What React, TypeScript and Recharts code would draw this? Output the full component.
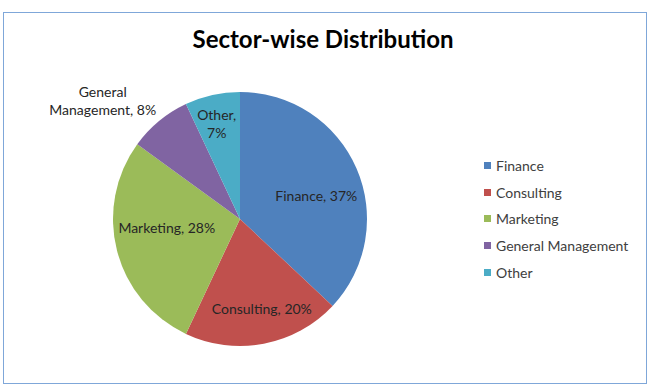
import { PieChart, Pie, Cell, Legend } from 'recharts';

const sectors = ['Finance', 'Consulting', 'Marketing', 'General Management', 'Other'];
const shares = [37, 20, 28, 8, 7];
const colors = ['#4F81BD', '#C0504D', '#9BBB59', '#8064A2', '#4BACC6'];

const data = sectors.map((name, i) => ({ name, value: shares[i] }));

const RADIAN = Math.PI / 180;
const FONT = 'Lato, "Open Sans", sans-serif';

// label placement tweaks: distance (x outer radius) and angle nudge in degrees
const labelDist = [0.63, 0.72, 0.58, 1.43, 0.78];
const labelTurn = [-6, 3, -8, 9.5, 1];

const renderLabel = (props: any) => {
  const { cx, cy, midAngle, outerRadius, index, name, value } = props;
  const r = outerRadius * labelDist[index];
  const a = (midAngle + labelTurn[index]) * RADIAN;
  const x = cx + r * Math.cos(-a);
  const y = cy + r * Math.sin(-a);
  let lines = [`${name}, ${value}%`];
  if (index === 3) lines = ['General', `Management, ${value}%`];
  if (index === 4) lines = [`${name},`, `${value}%`];
  const lh = 18;
  const y0 = y - ((lines.length - 1) * lh) / 2;
  return (
    <text
      x={x}
      y={y0}
      textAnchor="middle"
      dominantBaseline="central"
      fill="#262626"
      fontSize={14}
      fontFamily={FONT}
    >
      {lines.map((l, k) => (
        <tspan key={k} x={x} y={y0 + k * lh} dominantBaseline="central">
          {l}
        </tspan>
      ))}
    </text>
  );
};

const renderLegend = () => (
  <div style={{ fontFamily: FONT, fontSize: 14, color: '#404040' }}>
    {sectors.map((s, i) => (
      <div key={s} style={{ height: 26.7, display: 'flex', alignItems: 'center' }}>
        <span
          style={{
            display: 'inline-block',
            width: 7,
            height: 7,
            background: colors[i],
            marginRight: 5,
          }}
        />
        {s}
      </div>
    ))}
  </div>
);

export default function App() {
  return (
    <div style={{ position: 'absolute', left: 0, top: 0, width: 650, height: 389, background: '#fff' }}>
      <div
        style={{
          position: 'absolute',
          left: 3,
          top: 12,
          width: 642,
          height: 370,
          border: '1px solid #7FA7D9',
        }}
      />
      <div
        style={{
          position: 'absolute',
          left: 0,
          top: 24,
          width: 646,
          textAlign: 'center',
          fontFamily: FONT,
          fontWeight: 700,
          fontSize: 24,
          color: '#000',
        }}
      >
        Sector-wise Distribution
      </div>
      <PieChart
        width={650}
        height={389}
        margin={{ top: 0, right: 0, bottom: 0, left: 0 }}
        style={{ position: 'absolute', left: 0, top: 0 }}
      >
        <Pie
          data={data}
          dataKey="value"
          nameKey="name"
          cx={240}
          cy={219}
          outerRadius={127}
          startAngle={90}
          endAngle={-270}
          stroke="none"
          label={renderLabel}
          labelLine={false}
          isAnimationActive={false}
        >
          {data.map((d, i) => (
            <Cell key={d.name} fill={colors[i]} />
          ))}
        </Pie>
        <Legend
          layout="vertical"
          content={renderLegend}
          wrapperStyle={{ left: 484, top: 152, width: 160 }}
        />
      </PieChart>
    </div>
  );
}
